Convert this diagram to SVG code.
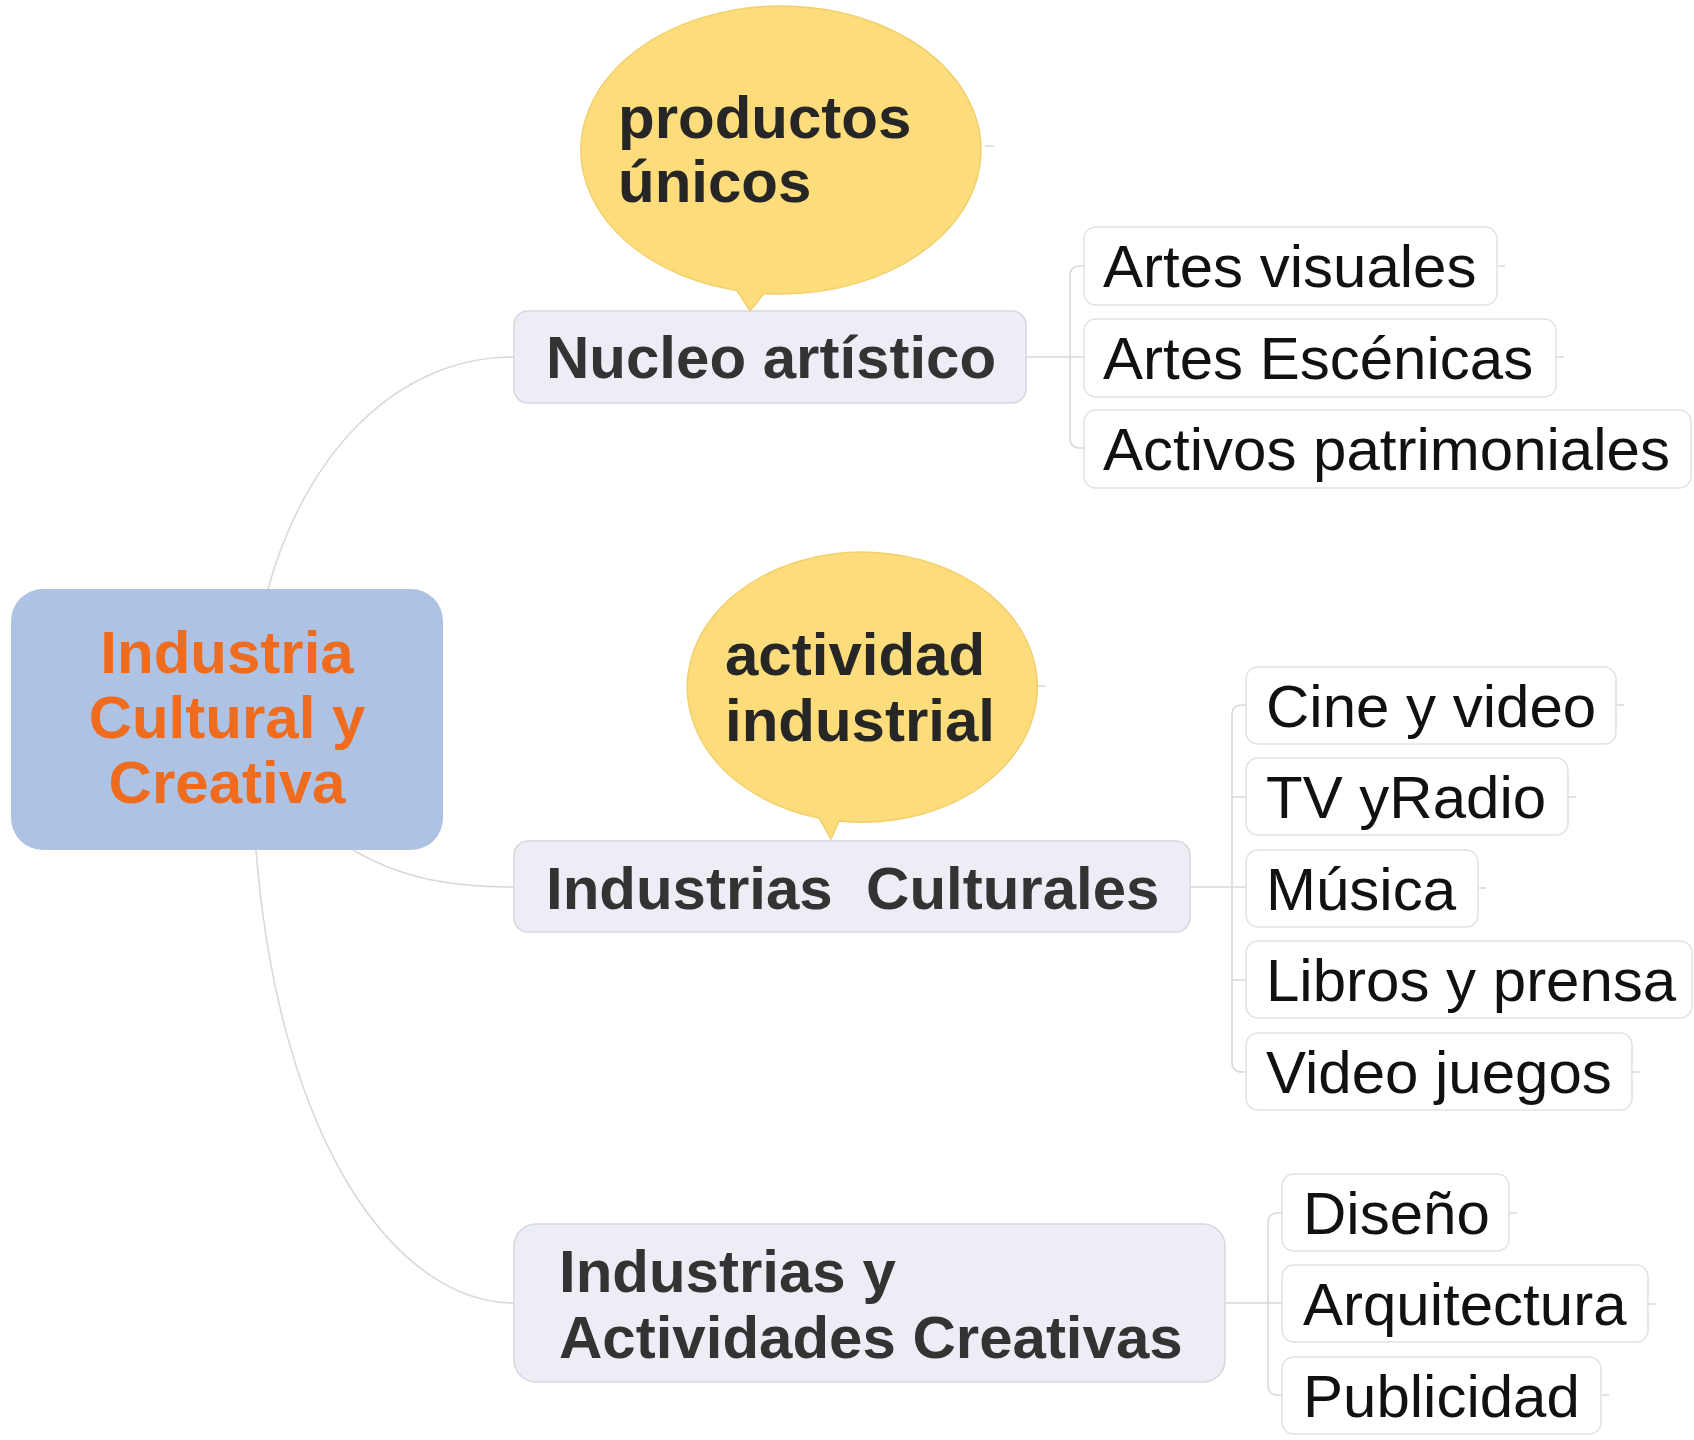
<svg xmlns="http://www.w3.org/2000/svg" width="1694" height="1440" viewBox="0 0 1694 1440">
<style>
.conn{fill:none;stroke:#d9d9d9;stroke-width:1.6}
.main{fill:#aec3e3}
.maintx{font-family:"Liberation Sans",Arial,sans-serif;font-weight:bold;font-size:60px;fill:#ef6c1f;text-anchor:middle}
.bub{fill:#fddc7b;stroke:#f1d06c;stroke-width:1.5}
.bubtx{font-family:"Liberation Sans",Arial,sans-serif;font-weight:bold;font-size:60px;fill:#262626}
.sub{fill:#ecedf5;stroke:#d6d8e0;stroke-width:1.5}
.subtx{font-family:"Liberation Sans",Arial,sans-serif;font-weight:bold;font-size:60px;fill:#333333}
.leaf{fill:#ffffff;stroke:#e2e2e2;stroke-width:1.5}
.leaftx{font-family:"Liberation Sans",Arial,sans-serif;font-size:60px;fill:#111111}
</style>
<rect width="1694" height="1440" fill="#ffffff"/>
<g id="connectors">
<path class="conn" d="M268,589 C305,455 395,357 514,357"/>
<path class="conn" d="M353,850 C400,878 450,887 514,887"/>
<path class="conn" d="M256,850 C280,1150 400,1303 514,1303"/>
<path class="conn" d="M1026,357 H1084 M1084,266 H1080 Q1070,266 1070,276 V438 Q1070,448 1080,448 H1084"/>
<path class="conn" d="M1190,887 H1246 M1246,705 H1242 Q1232,705 1232,715 V1062 Q1232,1072 1242,1072 H1246 M1232,797 H1246 M1232,980 H1246"/>
<path class="conn" d="M1225,1303 H1282 M1282,1213 H1278 Q1268,1213 1268,1223 V1385 Q1268,1395 1278,1395 H1282"/>
<path class="conn" d="M985,146 H994 M1037,686 H1046 M1497,266 H1505 M1556,357 H1564 M1616,705 H1624 M1568,797 H1576 M1478,888 H1486 M1632,1072 H1640 M1509,1213 H1517 M1648,1304 H1656 M1601,1395 H1609"/>
</g>
<g id="central">
<rect class="main" x="11" y="589" width="432" height="261" rx="32"/>
<text class="maintx" x="227" y="673">Industria</text>
<text class="maintx" x="227" y="738">Cultural y</text>
<text class="maintx" x="227" y="803">Creativa</text>
</g>
<g id="bubble-productos">
<path class="bub" d="M737,290.5 A200,144 0 1 1 764,293.5 L750,311 Z"/>
<text class="bubtx" x="618" y="138">productos</text>
<text class="bubtx" x="618" y="202">únicos</text>
</g>
<g id="nucleo">
<rect class="sub" x="514" y="311" width="512" height="92" rx="14"/>
<text class="subtx" x="546" y="378">Nucleo artístico</text>
</g>
<g id="artes-visuales"><rect class="leaf" x="1084" y="227" width="413" height="78" rx="12"/><text class="leaftx" x="1103" y="287">Artes visuales</text></g>
<g id="artes-escenicas"><rect class="leaf" x="1084" y="319" width="472" height="78" rx="12"/><text class="leaftx" x="1103" y="379">Artes Escénicas</text></g>
<g id="activos"><rect class="leaf" x="1084" y="410" width="607" height="78" rx="12"/><text class="leaftx" x="1103" y="470">Activos patrimoniales</text></g>
<g id="bubble-actividad">
<path class="bub" d="M819,818 A175,135 0 1 1 839,821 L831,839 Z"/>
<text class="bubtx" x="725" y="675">actividad</text>
<text class="bubtx" x="725" y="741">industrial</text>
</g>
<g id="ind-culturales">
<rect class="sub" x="514" y="841" width="676" height="91" rx="14"/>
<text class="subtx" x="546" y="909" xml:space="preserve">Industrias  Culturales</text>
</g>
<g id="cine"><rect class="leaf" x="1246" y="667" width="370" height="77" rx="12"/><text class="leaftx" x="1266" y="727">Cine y video</text></g>
<g id="tv"><rect class="leaf" x="1246" y="758" width="322" height="77" rx="12"/><text class="leaftx" x="1266" y="818">TV yRadio</text></g>
<g id="musica"><rect class="leaf" x="1246" y="850" width="232" height="77" rx="12"/><text class="leaftx" x="1266" y="910">Música</text></g>
<g id="libros"><rect class="leaf" x="1246" y="941" width="446" height="77" rx="12"/><text class="leaftx" x="1266" y="1001">Libros y prensa</text></g>
<g id="videojuegos"><rect class="leaf" x="1246" y="1033" width="386" height="77" rx="12"/><text class="leaftx" x="1266" y="1093">Video juegos</text></g>
<g id="ind-creativas">
<rect class="sub" x="514" y="1224" width="711" height="158" rx="22"/>
<text class="subtx" x="559" y="1292">Industrias y</text>
<text class="subtx" x="559" y="1358">Actividades Creativas</text>
</g>
<g id="diseno"><rect class="leaf" x="1282" y="1174" width="227" height="77" rx="12"/><text class="leaftx" x="1303" y="1234">Diseño</text></g>
<g id="arquitectura"><rect class="leaf" x="1282" y="1265" width="366" height="77" rx="12"/><text class="leaftx" x="1303" y="1325">Arquitectura</text></g>
<g id="publicidad"><rect class="leaf" x="1282" y="1357" width="319" height="77" rx="12"/><text class="leaftx" x="1303" y="1417">Publicidad</text></g>
</svg>
